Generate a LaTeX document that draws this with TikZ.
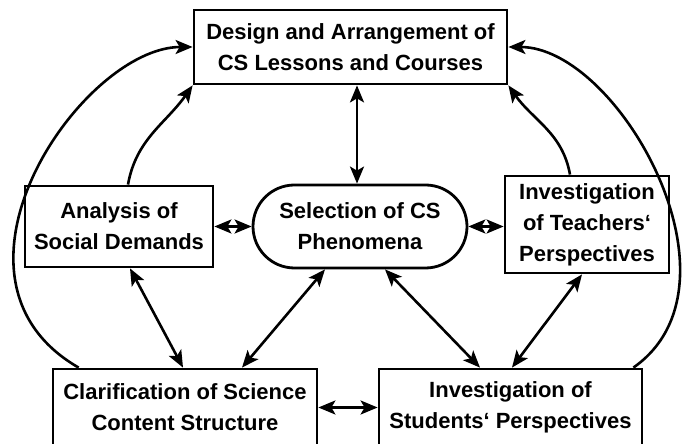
\documentclass[tikz,border=0pt]{standalone}
\usepackage{fontspec}
\setmainfont{Liberation Sans}
\usetikzlibrary{arrows.meta,shapes.misc}
\tikzset{
  box/.style={draw,line width=2.8pt,align=center,inner sep=0pt,
    font=\bfseries\fontsize{22}{31}\selectfont},
  pill/.style={box,rounded rectangle},
  arr/.style={line width=2.6pt,-{Stealth[length=17pt,width=14pt,inset=4pt]}},
  dbl/.style={line width=2.6pt,{Stealth[length=17pt,width=14pt,inset=4pt]}-{Stealth[length=17pt,width=14pt,inset=4pt]}}
}
\begin{document}
\begin{tikzpicture}[x=1pt,y=1pt]
\useasboundingbox (0,0) rectangle (691,444);
%boxes
\node[box,minimum width=313,minimum height=74] (design) at (350.5,397) {Design and Arrangement of\\CS Lessons and Courses};
\node[box,minimum width=188,minimum height=81] (ana) at (119,217.5) {Analysis of\\Social Demands};
\node[pill,minimum width=214,minimum height=83] (sel) at (360,217.5) {Selection of CS\\Phenomena};
\node[box,minimum width=164,minimum height=97] (tea) at (587,219.5) {Investigation\\of Teachers‘\\Perspectives};
\node[box,minimum width=264,minimum height=77] (clar) at (185,36.5) {Clarification of Science\\Content Structure};
\node[box,minimum width=263,minimum height=77] (stu) at (510.5,36.5) {Investigation of\\Students‘ Perspectives};
%curved arrows to the top
\draw[arr] ([xshift=27pt]clar.north west) to[out=150,in=180,out distance=180pt,in distance=110pt] (design.west);
\draw[arr] ([xshift=9pt]ana.north) to[out=80,in=235] (design.south west);
\draw[arr] ([xshift=-17pt]tea.north) to[out=100,in=-55] (design.south east);
\draw[arr] ([xshift=-10pt]stu.north east) to[out=35,in=0,out distance=145pt,in distance=110pt] (design.east);
%straight arrows
\draw[dbl] ([xshift=6.5pt]design.south) -- ([xshift=-3pt]sel.north);
\draw[dbl] (ana.east) -- (sel.west);
\draw[dbl] (sel.east) -- (sel.east -| tea.west);
\draw[dbl] ([xshift=11pt]ana.south) -- ([xshift=-2pt]clar.north);
\draw[dbl] ([xshift=-35pt]sel.south) -- ([xshift=57pt]clar.north);
\draw[dbl] ([xshift=25pt]sel.south) -- ([xshift=-30.5pt]stu.north);
\draw[dbl] ([xshift=-5pt]tea.south) -- ([xshift=1.5pt]stu.north);
\draw[dbl] (clar.east) -- (stu.west);
\end{tikzpicture}
\end{document}
